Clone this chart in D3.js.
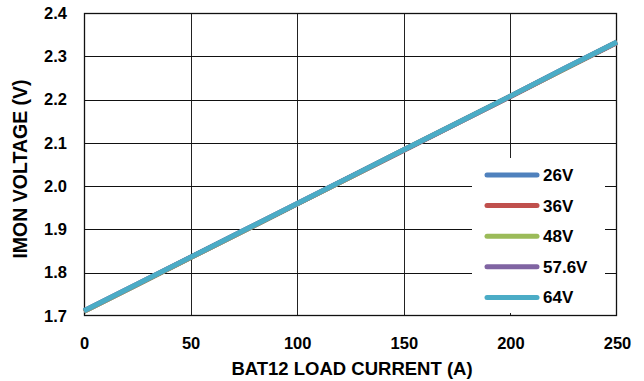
<!DOCTYPE html>
<html><head><meta charset="utf-8">
<script src="https://cdn.jsdelivr.net/npm/d3@7"></script>
<style>body{margin:0;background:#fff}svg{display:block}text{font-family:"Liberation Sans",Arial,sans-serif;font-weight:bold}</style>
</head><body><svg id="c" width="644" height="381"></svg>
<script>
const current = [0, 25, 50, 75, 100, 125, 150, 175, 200, 225, 250];
const v26  = [1.711, 1.773, 1.835, 1.897, 1.959, 2.021, 2.083, 2.145, 2.207, 2.270, 2.332];
const v36  = [1.711, 1.773, 1.835, 1.897, 1.959, 2.021, 2.083, 2.145, 2.207, 2.270, 2.332];
const v48  = [1.711, 1.773, 1.835, 1.897, 1.959, 2.021, 2.084, 2.146, 2.208, 2.270, 2.333];
const v576 = [1.712, 1.774, 1.836, 1.898, 1.960, 2.022, 2.084, 2.146, 2.208, 2.271, 2.333];
const v64  = [1.712, 1.774, 1.836, 1.898, 1.960, 2.022, 2.084, 2.146, 2.208, 2.271, 2.333];
const seriesNames = ["26V", "36V", "48V", "57.6V", "64V"];
const seriesValues = [v26, v36, v48, v576, v64];
const seriesColors = ["#4F81BD", "#C0504D", "#9BBB59", "#8064A2", "#4BACC6"];
const xTicks = [0, 50, 100, 150, 200, 250];
const yTicks = [1.7, 1.8, 1.9, 2.0, 2.1, 2.2, 2.3, 2.4];

const svg = d3.select("#c");
const L = 84, R = 617, T = 13, B = 316;
const x = d3.scaleLinear().domain([0, 250]).range([L, R]);
const y = d3.scaleLinear().domain([1.7, 2.4]).range([B, T]);

// grid
svg.append("g").selectAll("line").data(xTicks.slice(1, -1)).join("line")
  .attr("x1", d => Math.round(x(d)) + 0.5).attr("x2", d => Math.round(x(d)) + 0.5)
  .attr("y1", T).attr("y2", B).attr("stroke", "#222").attr("stroke-width", 1);
svg.append("g").selectAll("line").data(yTicks.slice(1, -1)).join("line")
  .attr("y1", d => Math.round(y(d)) + 0.5).attr("y2", d => Math.round(y(d)) + 0.5)
  .attr("x1", L).attr("x2", R).attr("stroke", "#111").attr("stroke-width", 1);

// axes labels
const xAxis = d3.axisBottom(x).tickValues(xTicks).tickSize(0).tickPadding(21).tickFormat(d3.format("d"));
const gx = svg.append("g").attr("transform", `translate(0,${B})`).call(xAxis);
gx.select(".domain").remove();
gx.selectAll("text").attr("font-size", 16.5).attr("fill", "#000");
const yAxis = d3.axisLeft(y).tickValues(yTicks).tickSize(0).tickPadding(17).tickFormat(d3.format(".1f"));
const gy = svg.append("g").attr("transform", `translate(${L},0)`).call(yAxis);
gy.select(".domain").remove();
gy.selectAll("text").attr("font-size", 16.5).attr("fill", "#000");

// border
svg.append("rect").attr("x", L + 0.5).attr("y", T + 0.5).attr("width", R - L - 1).attr("height", B - T - 1)
  .attr("fill", "none").attr("stroke", "#111").attr("stroke-width", 1.3);

// lines
const line = d3.line().x((d, i) => x(current[i])).y(d => y(d));
seriesValues.forEach((vals, i) => {
  svg.append("path").datum(vals).attr("d", line).attr("fill", "none")
    .attr("stroke", seriesColors[i]).attr("stroke-width", 5).attr("stroke-linecap", "butt");
});

// legend
const lg = svg.append("g");
lg.append("rect").attr("x", 472).attr("y", 158).attr("width", 133).attr("height", 155).attr("fill", "#fff");
seriesNames.forEach((n, i) => {
  const yy = 175 + i * 30.6;
  lg.append("line").attr("x1", 487).attr("x2", 537).attr("y1", yy).attr("y2", yy)
    .attr("stroke", seriesColors[i]).attr("stroke-width", 5).attr("stroke-linecap", "round");
  lg.append("text").attr("x", 543).attr("y", yy + 6).attr("font-size", 17).attr("fill", "#000").text(n);
});

// titles
svg.append("text").attr("x", 352).attr("y", 375).attr("text-anchor", "middle")
  .attr("font-size", 18.5).attr("fill", "#000").text("BAT12 LOAD CURRENT (A)");
svg.append("text").attr("transform", `translate(27,169) rotate(-90)`).attr("text-anchor", "middle")
  .attr("font-size", 19.5).attr("fill", "#000").text("IMON VOLTAGE (V)");
</script></body></html>
